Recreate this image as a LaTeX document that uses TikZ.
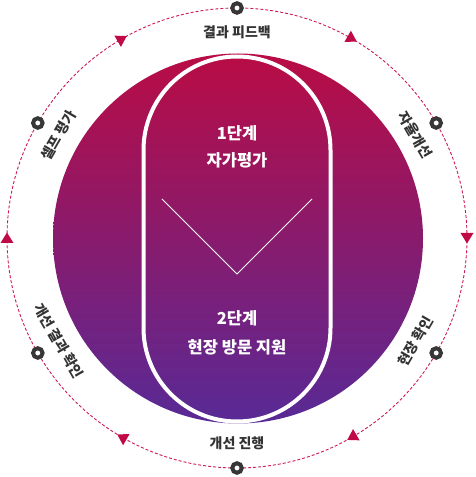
\documentclass[tikz,border=0pt]{standalone}
\usepackage{fontspec}
\setmainfont{Noto Sans CJK KR}
\usetikzlibrary{calc}
\definecolor{topc}{RGB}{185,12,68}
\definecolor{botc}{RGB}{88,42,150}
\definecolor{dashc}{RGB}{205,25,85}
\definecolor{arrowc}{RGB}{192,10,70}
\definecolor{markc}{RGB}{55,55,55}
\definecolor{txtc}{RGB}{51,51,51}
\tikzset{
  ringline/.style={dashc, line width=0.9pt, dash pattern=on 3pt off 2pt},
  marker/.style={circle, draw=markc, line width=4pt, fill=white, minimum size=9.5pt, inner sep=0pt},
  ringlbl/.style={text=txtc, font=\fontsize{14}{16}\selectfont\bfseries, inner sep=0pt},
  innerlbl/.style={text=white, font=\fontsize{16.5}{19}\selectfont\bfseries, inner sep=0pt},
  tri/.style={fill=arrowc}
}
\begin{document}
\begin{tikzpicture}[x=1pt,y=1pt]
\useasboundingbox (0,0) rectangle (475,477);
\coordinate (C) at (237,239);
% big gradient circle
\shade[top color=topc, bottom color=botc] (238,238.5) circle (185);
% stadium outline
\draw[white, line width=4pt] (143.5,327) arc (180:0:93.5) -- (330.5,149) arc (0:-180:93.5) -- cycle;
% V line
\coordinate (v1) at (162,278);
\coordinate (v2) at (237,203);
\coordinate (v3) at (312,278);
\draw[white, line width=0.8pt] (v1) -- (v2) -- (v3);
% inner texts
\node[innerlbl] (s1) at (237,344) {1단계};
\node[innerlbl] (s1b) at (237,317) {자가평가};
\node[innerlbl] (s2) at (237,159) {2단계};
\node[innerlbl] (s2b) at (237,130) {현장 방문 지원};
% dashed ring
\draw[ringline] (C) circle (230);
% arrows
\foreach \a in {0,60,...,300}
  \fill[tri, shift={(C)}, rotate=\a] (223.5,5) -- (236.5,5) -- (230,-5.5) -- cycle;
% markers
\foreach \a in {30,90,...,330}
  \node[marker] (m\a) at ($(C)+(\a:230)$) {};
% ring labels
\node[ringlbl] (l90) at ($(C)+(90:206)$) {결과 피드백};
\node[ringlbl, rotate=-60] (l30) at ($(C)+(30:206)$) {자율개선};
\node[ringlbl, rotate=60] (l330) at ($(C)+(330:206)$) {현장 확인};
\node[ringlbl] (l270) at ($(C)+(270:205)$) {개선 진행};
\node[ringlbl, rotate=-60] (l210) at ($(C)+(210:206)$) {개선 결과 확인};
\node[ringlbl, rotate=60] (l150) at ($(C)+(150:206)$) {셀프 평가};
\end{tikzpicture}
\end{document}
